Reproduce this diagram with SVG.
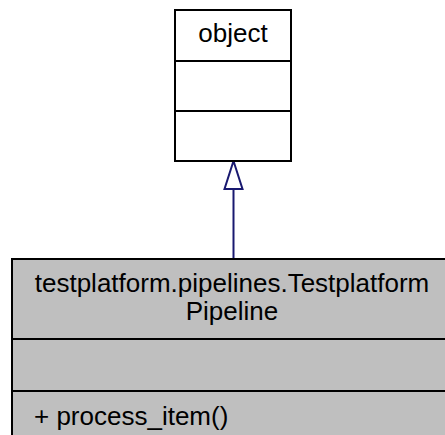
<svg xmlns="http://www.w3.org/2000/svg" width="445" height="435" viewBox="0 0 445 435">
<style>
text{font-family:"Liberation Sans",Arial,sans-serif;font-size:26px;fill:#000}
.box{stroke:#000;stroke-width:2}
.edge{stroke:#191970;stroke-width:2;fill:none}
.head{fill:#fff;stroke:#191970;stroke-width:2}
</style>
<rect width="445" height="435" fill="#fff"/>
<g id="connectors">
<line class="edge" x1="233.5" y1="258" x2="233.5" y2="188"/>
<path class="head" d="M233.5,161 L242.5,189 L224.5,189 Z"/>
</g>
<g id="object">
<rect class="box" x="175" y="10" width="116" height="151" fill="#fff"/>
<line class="box" x1="175" y1="61" x2="291" y2="61"/>
<line class="box" x1="175" y1="111" x2="291" y2="111"/>
<text x="233" y="42" text-anchor="middle">object</text>
</g>
<g id="TestplatformPipeline">
<rect class="box" x="12" y="259" width="440" height="190" fill="#bfbfbf"/>
<line class="box" x1="12" y1="339" x2="452" y2="339"/>
<line class="box" x1="12" y1="391" x2="452" y2="391"/>
<text x="232" y="292" text-anchor="middle">testplatform.pipelines.Testplatform</text>
<text x="232" y="320" text-anchor="middle">Pipeline</text>
<text x="34" y="425">+ process_item()</text>
</g>
</svg>
